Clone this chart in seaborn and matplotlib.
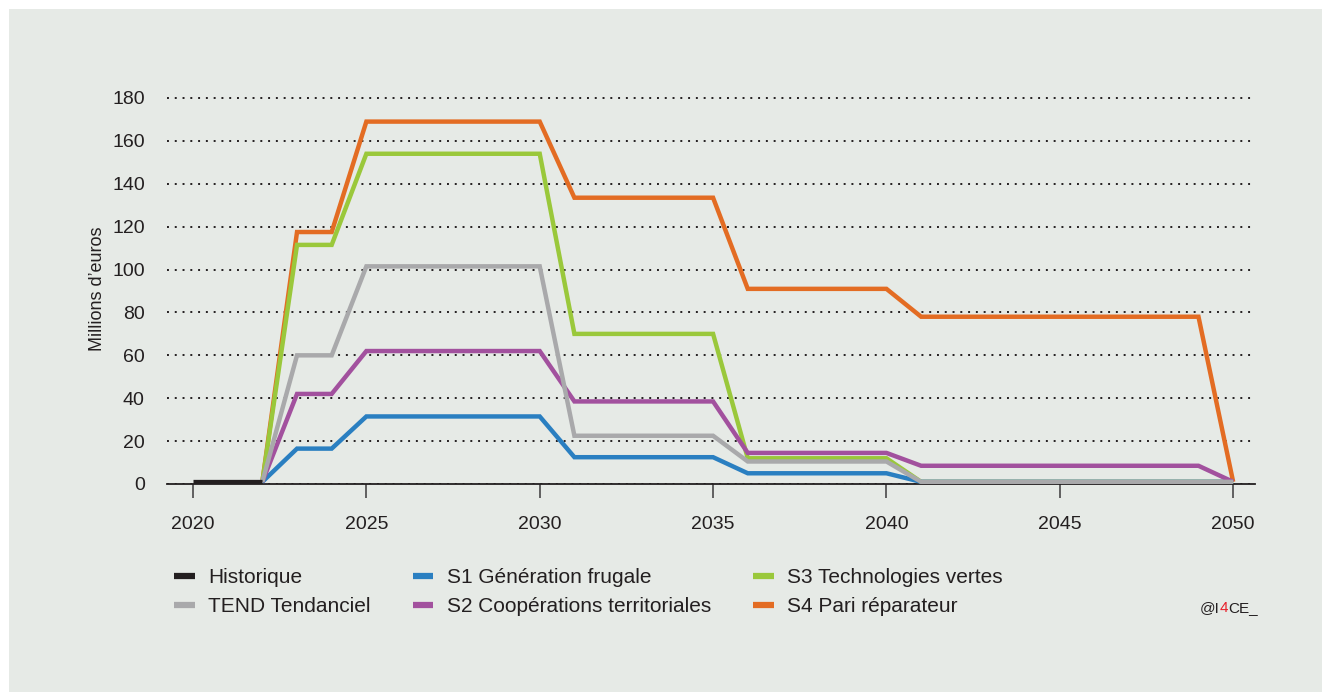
import matplotlib.pyplot as plt
from matplotlib.patches import Rectangle
import seaborn as sb

# Historique (2020-2022)
years_hist = [2020, 2021, 2022]
historique = [1, 1, 1]

# scenarios, 2022-2050
years = list(range(2022, 2051))
tend = [1, 60, 60, 101.5, 101.5, 101.5, 101.5, 101.5, 101.5,
        22.5, 22.5, 22.5, 22.5, 22.5, 10.5, 10.5, 10.5, 10.5, 10.5,
        1, 1, 1, 1, 1, 1, 1, 1, 1, 1]
s1 = [1, 16.5, 16.5, 31.5, 31.5, 31.5, 31.5, 31.5, 31.5,
      12.5, 12.5, 12.5, 12.5, 12.5, 5, 5, 5, 5, 5,
      1, 1, 1, 1, 1, 1, 1, 1, 1, 1]
s2 = [1, 42, 42, 62, 62, 62, 62, 62, 62,
      38.5, 38.5, 38.5, 38.5, 38.5, 14.5, 14.5, 14.5, 14.5, 14.5,
      8.5, 8.5, 8.5, 8.5, 8.5, 8.5, 8.5, 8.5, 8.5, 1]
s3 = [1, 111.5, 111.5, 154, 154, 154, 154, 154, 154,
      70, 70, 70, 70, 70, 12, 12, 12, 12, 12,
      1, 1, 1, 1, 1, 1, 1, 1, 1, 1]
s4 = [1, 117.5, 117.5, 169, 169, 169, 169, 169, 169,
      133.5, 133.5, 133.5, 133.5, 133.5, 91, 91, 91, 91, 91,
      78, 78, 78, 78, 78, 78, 78, 78, 78, 1]

labels = ["Historique", "TEND Tendanciel", "S1 Génération frugale",
          "S2 Coopérations territoriales", "S3 Technologies vertes",
          "S4 Pari réparateur"]

BG = "#e6eae6"
INK = "#231f20"

sb.set_theme(style="white")
plt.rcParams["font.family"] = ["Liberation Sans", "DejaVu Sans"]
plt.rcParams["text.color"] = INK

fig = plt.figure(figsize=(13.22, 6.92), dpi=100, facecolor="white")
fig.patches.append(Rectangle((9 / 1322, 0), 1, 1 - 9 / 692, transform=fig.transFigure,
                             facecolor=BG, edgecolor="none", zorder=-10))
# y=0 at px 484, y=180 at px 98; top of axes a bit above 180
px_per_unit = (484 - 98) / 180
top_px = 484 - 182 * px_per_unit
ax = fig.add_axes([167 / 1322, 1 - 484 / 692, (1255 - 167) / 1322, (484 - top_px) / 692])
ax.set_facecolor("none")

series = [
    (years, s4, labels[5], "#e36c23", 3, 3.2),
    (years, s3, labels[4], "#9ac83b", 4, 3.2),
    (years, s1, labels[2], "#2a7fc1", 5, 3.2),
    (years, s2, labels[3], "#a2519e", 6, 3.2),
    (years, tend, labels[1], "#a9a9ab", 7, 3.2),
    (years_hist, historique, labels[0], INK, 8, 3.8),
]
for x, y, label, color, z, lw in series:
    sb.lineplot(x=x, y=y, ax=ax, color=color, lw=lw, label=label, zorder=z,
                solid_joinstyle="miter", solid_capstyle="butt")

ax.set(xlim=(2019.25, 2050.63), ylim=(0, 182))
ax.set_xticks([2020, 2025, 2030, 2035, 2040, 2045, 2050])
ax.set_yticks(range(0, 181, 20))
ax.yaxis.grid(True, color=INK, linestyle=(0, (1, 3)), lw=1.4)
ax.xaxis.grid(False)
for side in ["left", "right", "top"]:
    ax.spines[side].set_visible(False)
ax.spines["bottom"].set_color(INK)
ax.spines["bottom"].set_linewidth(1.3)
ax.spines["bottom"].set_zorder(2)
ax.tick_params(axis="x", bottom=True, length=10, width=1.3, color="#555555",
               pad=13, labelsize=14, labelcolor=INK)
ax.tick_params(axis="y", left=False, pad=10, labelsize=14, labelcolor=INK)
ax.set_ylabel("Millions d’euros", fontsize=13, labelpad=4, color=INK)
ax.set_xlabel("")

handles, names = ax.get_legend_handles_labels()
lookup = dict(zip(names, handles))
leg = ax.legend([lookup[n] for n in labels], labels, ncol=3, frameon=False,
                loc="upper left", bbox_to_anchor=(174 / 1322, 1 - 568 / 692),
                bbox_transform=fig.transFigure, fontsize=15, borderpad=0,
                handlelength=1.0, handletextpad=0.65, columnspacing=2.0,
                labelspacing=0.5, borderaxespad=0)
for h in leg.legend_handles:
    h.set_linewidth(4.5)

t = fig.text(1200 / 1322, 1 - 608 / 692, "@I", fontsize=11, va="center", color=INK)
t4 = ax.annotate("4", xy=(1, 0.5), xycoords=t, va="center", fontsize=11,
                 color="#e8202a", annotation_clip=False)
ax.annotate("CE_", xy=(1, 0.5), xycoords=t4, va="center", fontsize=11,
            color=INK, annotation_clip=False)

plt.savefig("out.png", dpi=100, facecolor=fig.get_facecolor())
